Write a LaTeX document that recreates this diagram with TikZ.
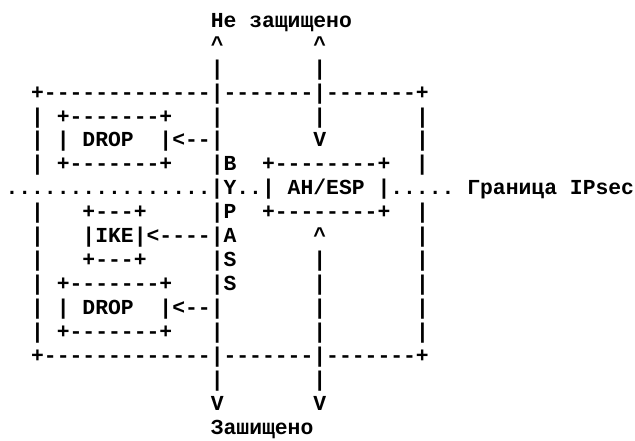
\documentclass[tikz,border=0pt]{standalone}
\usepackage{fontspec}
\setmonofont{Liberation Mono}
\begin{document}
\begin{tikzpicture}[x=1pt,y=1pt,
  asciirow/.style={anchor=base west, inner sep=0pt, outer sep=0pt,
    font=\fontsize{21.38}{24}\selectfont\ttfamily\bfseries}]
\useasboundingbox (0,0) rectangle (635,-441);
% one node per text row, all rows start at the same left column
\node[asciirow] (r01) at (5.5,-27.30)  {~~~~~~~~~~~~~~~~Не защищено};
\node[asciirow] (r02) at (5.5,-51.24)  {~~~~~~~~~~~~~~~~\textasciicircum~~~~~~~\textasciicircum};
\node[asciirow] (r03) at (5.5,-75.18)  {~~~~~~~~~~~~~~~~|~~~~~~~|};
\node[asciirow] (r04) at (5.5,-99.12)  {~~+-------------|-------|-------+};
\node[asciirow] (r05) at (5.5,-123.06) {~~|~+-------+~~~|~~~~~~~|~~~~~~~|};
\node[asciirow] (r06) at (5.5,-147.00) {~~|~|~DROP~~|<--|~~~~~~~V~~~~~~~|};
\node[asciirow] (r07) at (5.5,-170.94) {~~|~+-------+~~~|B~~+--------+~~|};
\node[asciirow] (r08) at (5.5,-194.88) {................|Y..|~AH/ESP~|.....~Граница~IPsec};
\node[asciirow] (r09) at (5.5,-218.82) {~~|~~~+---+~~~~~|P~~+--------+~~|};
\node[asciirow] (r10) at (5.5,-242.76) {~~|~~~|IKE|<----|A~~~~~~\textasciicircum~~~~~~~|};
\node[asciirow] (r11) at (5.5,-266.70) {~~|~~~+---+~~~~~|S~~~~~~|~~~~~~~|};
\node[asciirow] (r12) at (5.5,-290.64) {~~|~+-------+~~~|S~~~~~~|~~~~~~~|};
\node[asciirow] (r13) at (5.5,-314.58) {~~|~|~DROP~~|<--|~~~~~~~|~~~~~~~|};
\node[asciirow] (r14) at (5.5,-338.52) {~~|~+-------+~~~|~~~~~~~|~~~~~~~|};
\node[asciirow] (r15) at (5.5,-362.46) {~~+-------------|-------|-------+};
\node[asciirow] (r16) at (5.5,-386.40) {~~~~~~~~~~~~~~~~|~~~~~~~|};
\node[asciirow] (r17) at (5.5,-410.34) {~~~~~~~~~~~~~~~~V~~~~~~~V};
\node[asciirow] (r18) at (5.5,-434.28) {~~~~~~~~~~~~~~~~Зашищено};
\end{tikzpicture}
\end{document}
